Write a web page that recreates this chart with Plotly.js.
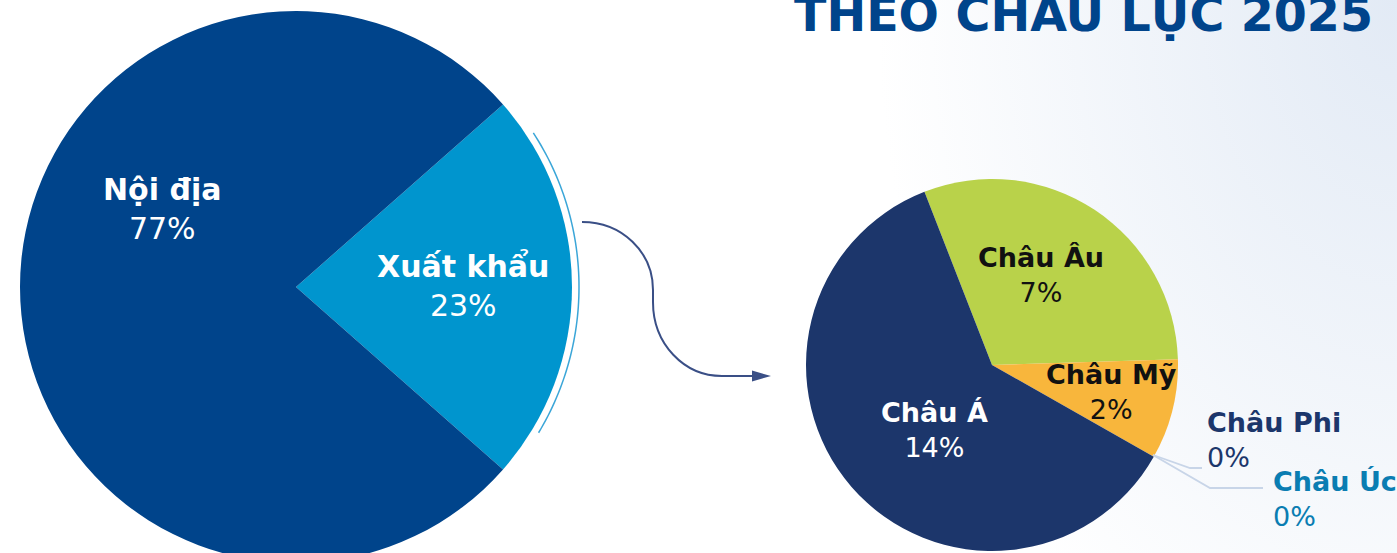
<!DOCTYPE html>
<html>
<head>
<meta charset="utf-8">
<script src="https://cdn.plot.ly/plotly-3.0.1.min.js"></script>
<style>
  html, body { margin:0; padding:0; width:1397px; height:553px; overflow:hidden; }
  body {
    background: radial-gradient(ellipse 520px 760px at 100% 0%, #e2eaf5 0%, rgba(255,255,255,0) 100%), #ffffff;
  }
  #chart { width:1397px; height:600px; }
</style>
</head>
<body>
<div id="chart"></div>
<script>
// ---------- DATA ----------
const titleText = 'THEO CHÂU LỤC 2025';
const mainLabels = ['Xuất khẩu', 'Nội địa'];
const mainValues = [23, 77];
const mainColors = ['#0095CE', '#00448B'];

const contLabels = ['Châu Âu', 'Châu Mỹ', 'Châu Phi', 'Châu Úc', 'Châu Á'];
const contValues = [7, 2, 0, 0, 14];
const contColors = ['#B9D24A', '#F8B63C', '#1C366B', '#0A7DB2', '#1C366B'];

// ---------- LAYOUT HELPERS ----------
const W = 1397, H = 600;
const X = px => px / W;
const Y = py => 1 - py / H;
function domainFor(cx, cy, r) {
  return { x: [X(cx - r), X(cx + r)], y: [Y(cy + r), Y(cy - r)] };
}
const bigC = { cx: 296, cy: 287, r: 276 };
const smallC = { cx: 992, cy: 365, r: 186 };

const font = '"DejaVu Sans", "Noto Sans", sans-serif';

const traces = [
  {
    type: 'pie',
    labels: mainLabels,
    values: mainValues,
    marker: { colors: mainColors, line: { width: 0 } },
    sort: false,
    direction: 'clockwise',
    rotation: 48.6,
    textinfo: 'none',
    hoverinfo: 'label+percent',
    showlegend: false,
    domain: domainFor(bigC.cx, bigC.cy, bigC.r)
  },
  {
    type: 'pie',
    labels: contLabels,
    values: contValues,
    marker: { colors: contColors, line: { width: 0 } },
    sort: false,
    direction: 'clockwise',
    rotation: -21.3,
    textinfo: 'none',
    hoverinfo: 'label+value',
    showlegend: false,
    domain: domainFor(smallC.cx, smallC.cy, smallC.r)
  }
];

// ---------- ANNOTATIONS (labels from the data arrays) ----------
const pct = v => v + '%';
const mainLabelPos = [
  {x: 463, y: 286, color: '#ffffff'},
  {x: 162, y: 209, color: '#ffffff'}
];
const contLabelPos = [
  {x: 1041, y: 275, color: '#111111', anchor: 'center'},
  {x: 1111, y: 392, color: '#111111', anchor: 'center'},
  {x: 1206, y: 440, color: '#1C366B', anchor: 'left'},
  {x: 1272, y: 499, color: '#0A7DB2', anchor: 'left'},
  {x: 934, y: 430, color: '#ffffff', anchor: 'center'}
];

const annotations = [];
function addLabel(p, name, value, size, anchor) {
  annotations.push({
    xref: 'paper', yref: 'paper', x: X(p.x), y: Y(p.y),
    xanchor: anchor, yanchor: 'middle', align: anchor, showarrow: false, borderpad: 0,
    text: '<b>' + name + '</b><br>' + pct(value),
    font: { family: font, size: size, color: p.color }
  });
}
mainLabels.forEach((lab, i) => addLabel(mainLabelPos[i], lab, mainValues[i], 30, 'center'));
contLabels.forEach((lab, i) => addLabel(contLabelPos[i], lab, contValues[i], 27, contLabelPos[i].anchor));

annotations.push({
  xref: 'paper', yref: 'paper', x: X(1083), y: Y(43),
  xanchor: 'center', yanchor: 'bottom', showarrow: false, borderpad: 0,
  text: '<b>' + titleText + '</b>',
  font: { family: '"DejaVu Sans", sans-serif', size: 47.5, color: '#00448B' }
});

// ---------- DECORATIVE SHAPES ----------
const P = (px, py) => X(px).toFixed(5) + ',' + Y(py).toFixed(5);
// curved arrow
const arrowPath = 'M' + P(582, 222) + ' C' + P(622, 222) + ' ' + P(653, 252) + ' ' + P(653, 290) +
  ' L' + P(653, 302) + ' C' + P(653, 344) + ' ' + P(684, 376) + ' ' + P(722, 376) + ' L' + P(756, 376);
const headPath = 'M' + P(752, 370.5) + ' L' + P(771, 376) + ' L' + P(752, 381.5) + ' Z';
// thin ring arc outside the export slice
let arc = '';
const rr = 283;
for (let a = 57; a <= 121; a += 1) {
  const t = a * Math.PI / 180;
  const px = bigC.cx + rr * Math.sin(t), py = bigC.cy - rr * Math.cos(t);
  arc += (arc ? ' L' : 'M') + P(px, py);
}
// leader lines for zero slices
const lead1 = 'M' + P(1153, 455) + ' L' + P(1190, 468) + ' L' + P(1202, 468);
const lead2 = 'M' + P(1153, 455) + ' L' + P(1210, 488) + ' L' + P(1263, 488);

const shapes = [
  { type: 'path', xref: 'paper', yref: 'paper', path: arrowPath, line: { color: '#3A4F86', width: 2 } },
  { type: 'path', xref: 'paper', yref: 'paper', path: headPath, fillcolor: '#3A4F86', line: { color: '#3A4F86', width: 0 } },
  { type: 'path', xref: 'paper', yref: 'paper', path: arc, line: { color: '#3BA6D8', width: 1.5 } },
  { type: 'path', xref: 'paper', yref: 'paper', path: lead1, line: { color: '#C8D5E8', width: 1.8 } },
  { type: 'path', xref: 'paper', yref: 'paper', path: lead2, line: { color: '#C8D5E8', width: 1.8 } }
];

const layout = {
  width: W, height: H,
  margin: { l: 0, r: 0, t: 0, b: 0, pad: 0 },
  paper_bgcolor: 'rgba(0,0,0,0)',
  plot_bgcolor: 'rgba(0,0,0,0)',
  showlegend: false,
  annotations: annotations,
  shapes: shapes,
  font: { family: font }
};

Plotly.newPlot('chart', traces, layout, { displayModeBar: false, staticPlot: true });
</script>
</body>
</html>
